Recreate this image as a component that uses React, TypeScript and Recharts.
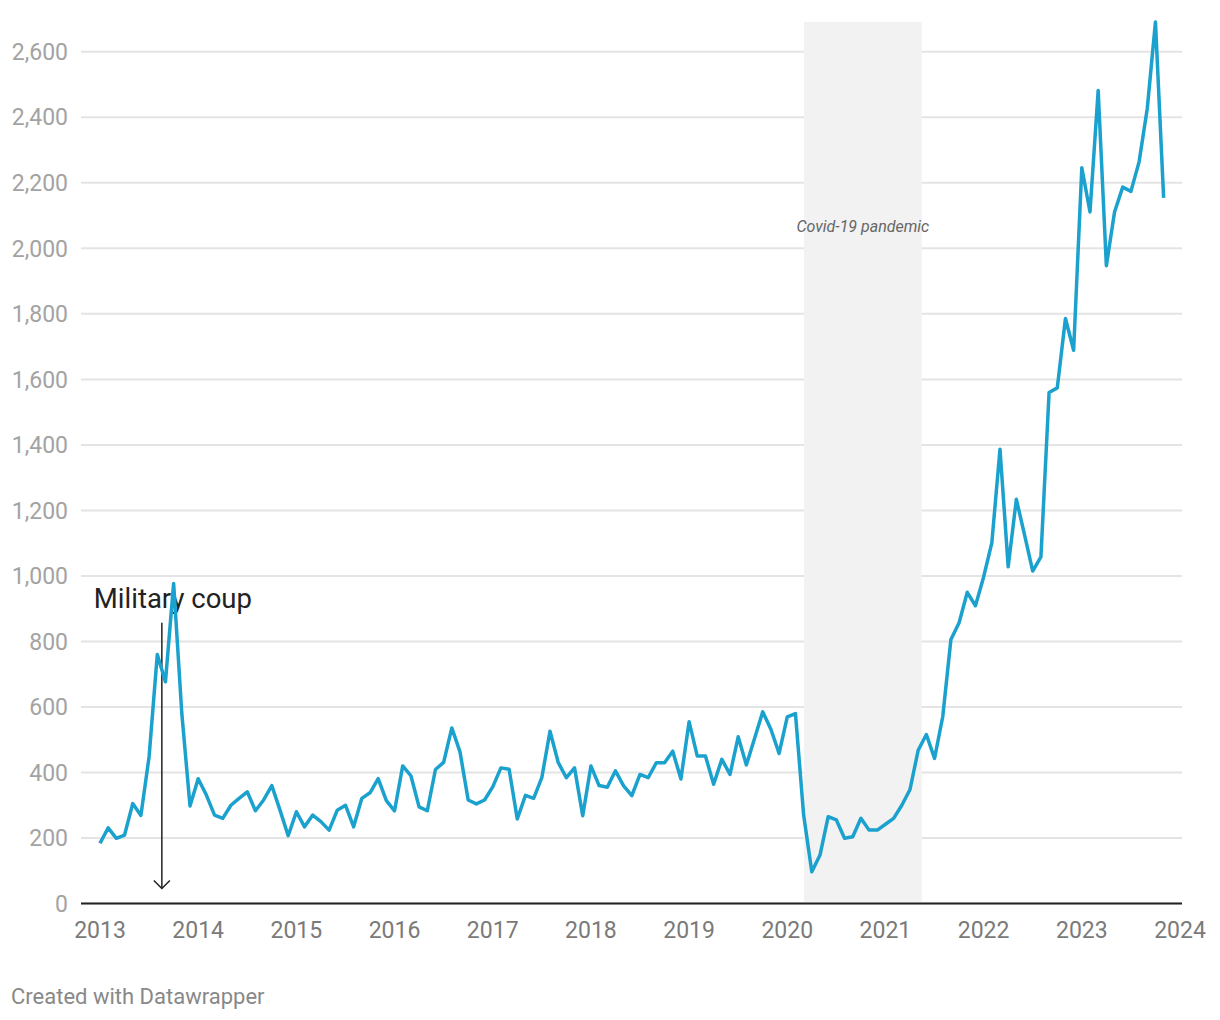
import React from 'react'
import {
  LineChart,
  Line,
  XAxis,
  YAxis,
  CartesianGrid,
  ReferenceArea,
  ReferenceLine,
} from 'recharts'

// monthly values, Jan..Dec (2023 ends in November)
const years = [2013, 2014, 2015, 2016, 2017, 2018, 2019, 2020, 2021, 2022, 2023]
const v2013 = [184, 231, 199, 209, 305, 269, 448, 760, 677, 977, 580, 298]
const v2014 = [381, 331, 270, 260, 300, 321, 341, 283, 316, 360, 285, 207]
const v2015 = [280, 234, 270, 250, 224, 285, 300, 234, 321, 338, 381, 314]
const v2016 = [283, 420, 390, 295, 283, 409, 431, 536, 463, 316, 304, 316]
const v2017 = [356, 414, 410, 258, 330, 321, 384, 526, 431, 384, 414, 268]
const v2018 = [420, 360, 355, 405, 359, 329, 394, 384, 430, 430, 465, 380]
const v2019 = [555, 450, 450, 364, 440, 394, 509, 423, 504, 585, 532, 458]
const v2020 = [570, 580, 270, 97, 148, 265, 255, 199, 204, 260, 224, 224]
const v2021 = [242, 260, 300, 348, 468, 516, 443, 570, 806, 857, 950, 909]
const v2022 = [997, 1101, 1387, 1028, 1234, 1125, 1015, 1058, 1560, 1574, 1786, 1689]
const v2023 = [2246, 2111, 2482, 1947, 2111, 2187, 2174, 2264, 2427, 2691, 2154]

const yearTicks = [2013, 2014, 2015, 2016, 2017, 2018, 2019, 2020, 2021, 2022, 2023, 2024]
const valueTicks = [0, 200, 400, 600, 800, 1000, 1200, 1400, 1600, 1800, 2000, 2200, 2400, 2600]

const covidStart = 2020.17
const covidEnd = 2021.37
const coupDate = 2013.63

interface Point {
  t: number
  value: number
}

const byYear = [v2013, v2014, v2015, v2016, v2017, v2018, v2019, v2020, v2021, v2022, v2023]
const data: Point[] = byYear.flatMap((vals, i) =>
  vals.map((value, m) => ({ t: years[i] + m / 12, value }))
)

const CoupArrow = (props: any) => {
  const { x1, y1, x2, y2 } = props
  return (
    <g>
      <text x={x1 - 68} y={y1 - 14.7} fontSize={27.5} fill="#222" fontFamily="Roboto">
        Military coup
      </text>
      <line x1={x1} y1={y1} x2={x2} y2={y2} stroke="#222" strokeWidth={1.5} />
      <polyline
        points={`${x2 - 8},${y2 - 8} ${x2},${y2} ${x2 + 8},${y2 - 8}`}
        fill="none"
        stroke="#222"
        strokeWidth={1.5}
      />
    </g>
  )
}

const App: React.FC = () => {
  return (
    <div style={{ position: 'relative', width: 1204, height: 1004, fontFamily: 'Roboto' }}>
      <LineChart
        width={1204}
        height={950}
        data={data}
        margin={{ top: 14, right: 30, bottom: 14.5, left: 0 }}
      >
        <ReferenceArea
          x1={covidStart}
          x2={covidEnd}
          fill="#f2f2f2"
          fillOpacity={1}
          stroke="none"
          label={{
            value: 'Covid-19 pandemic',
            position: 'insideTop',
            offset: 199,
            fontSize: 16,
            fontStyle: 'italic',
            fill: '#666',
            fontFamily: 'Roboto',
          }}
        />
        <CartesianGrid
          vertical={false}
          horizontalValues={valueTicks}
          stroke="#e4e4e4"
          strokeWidth={2}
        />
        <XAxis
          dataKey="t"
          type="number"
          domain={[2013, 2024]}
          ticks={yearTicks}
          padding={{ left: 19, right: 2 }}
          height={40}
          tickSize={0}
          tickMargin={18}
          axisLine={{ stroke: '#222', strokeWidth: 2 }}
          tickLine={false}
          tick={{ fontSize: 23, fill: '#7a7a7a', fontFamily: 'Roboto' }}
        />
        <YAxis
          type="number"
          domain={[0, 2691]}
          ticks={valueTicks}
          width={73}
          tickSize={0}
          tickMargin={13}
          axisLine={false}
          tickLine={false}
          tick={{ fontSize: 23, fill: '#a3a3a3', fontFamily: 'Roboto' }}
          tickFormatter={(v: number) => v.toLocaleString('en-US')}
        />
        <ReferenceLine
          segment={[
            { x: coupDate, y: 857 },
            { x: coupDate, y: 46 },
          ]}
          shape={CoupArrow}
        />
        <Line
          type="linear"
          dataKey="value"
          stroke="#1ba1cd"
          strokeWidth={3.5}
          strokeLinejoin="round"
          dot={false}
          activeDot={false}
          isAnimationActive={false}
        />
      </LineChart>
      <div
        style={{
          position: 'absolute',
          left: 3,
          top: 977.5,
          fontSize: 22,
          lineHeight: '22px',
          color: '#888',
        }}
      >
        Created with Datawrapper
      </div>
    </div>
  )
}

export default App
